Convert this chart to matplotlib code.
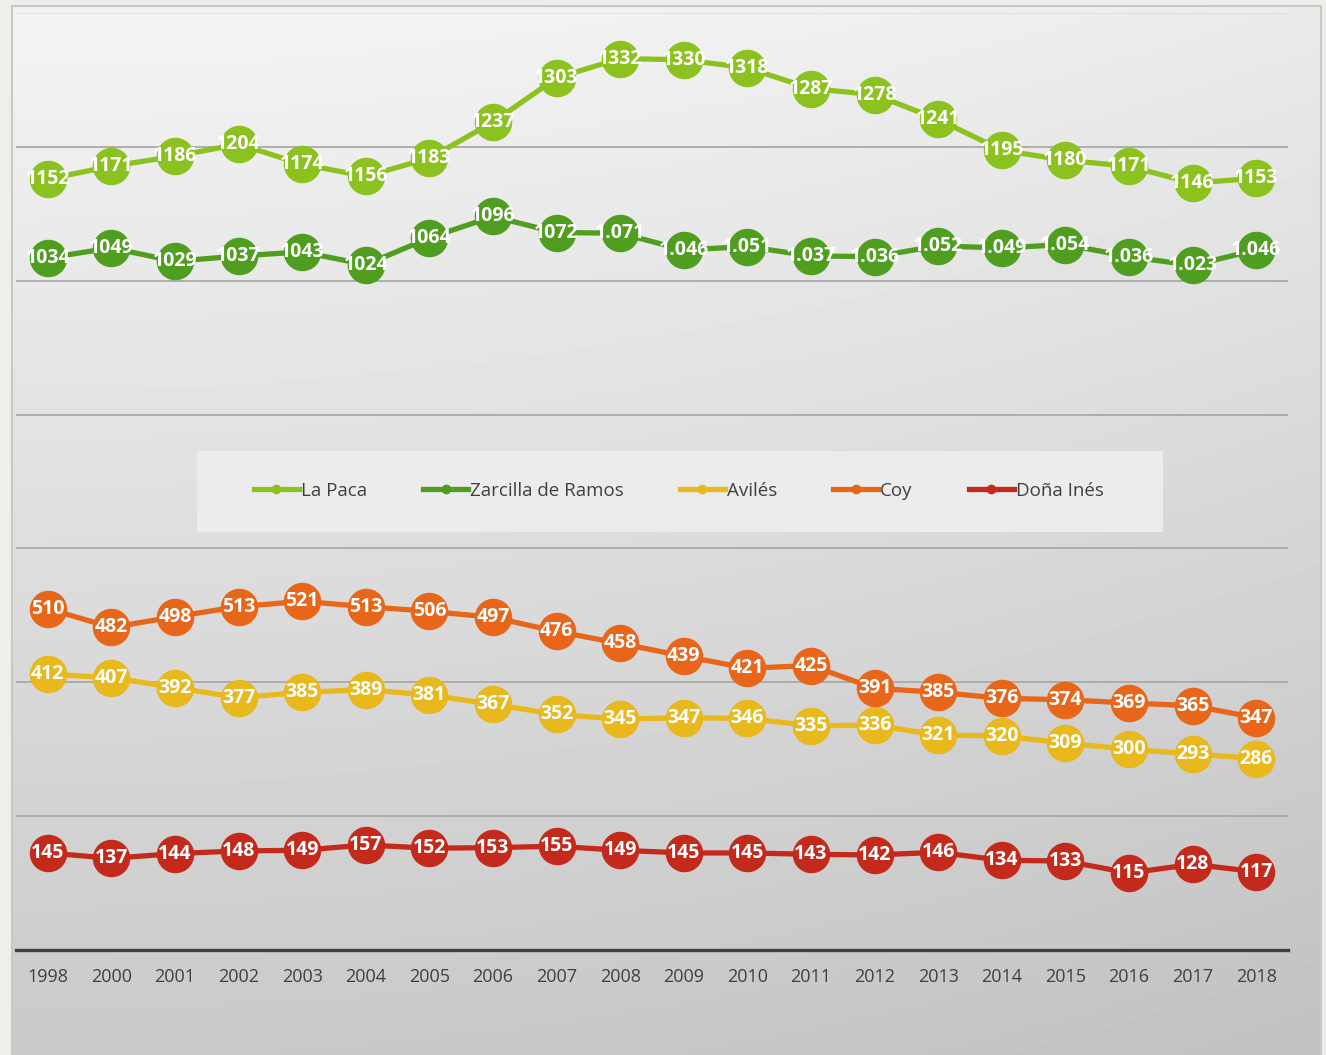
import numpy as np
import matplotlib.pyplot as plt
from matplotlib.patches import Rectangle

anios = ["1998", "2000", "2001", "2002", "2003", "2004", "2005", "2006", "2007", "2008",
         "2009", "2010", "2011", "2012", "2013", "2014", "2015", "2016", "2017", "2018"]

la_paca = [1152, 1171, 1186, 1204, 1174, 1156, 1183, 1237, 1303, 1332,
           1330, 1318, 1287, 1278, 1241, 1195, 1180, 1171, 1146, 1153]
zarcilla = [1034, 1049, 1029, 1037, 1043, 1024, 1064, 1096, 1072, 1071,
            1046, 1051, 1037, 1036, 1052, 1049, 1054, 1036, 1023, 1046]
aviles = [412, 407, 392, 377, 385, 389, 381, 367, 352, 345,
          347, 346, 335, 336, 321, 320, 309, 300, 293, 286]
coy = [510, 482, 498, 513, 521, 513, 506, 497, 476, 458,
       439, 421, 425, 391, 385, 376, 374, 369, 365, 347]
dona_ines = [145, 137, 144, 148, 149, 157, 152, 153, 155, 149,
             145, 145, 143, 142, 146, 134, 133, 115, 128, 117]

# desde 2009 las etiquetas de Zarcilla llevan separador de miles
sep_desde = 9

series = [
    ("La Paca", la_paca, "#8cc220"),
    ("Zarcilla de Ramos", zarcilla, "#4f9e20"),
    ("Avilés", aviles, "#e8b81c"),
    ("Coy", coy, "#e8661a"),
    ("Doña Inés", dona_ines, "#c42a1c"),
]

W, H = 1326, 1055
fig = plt.figure(figsize=(W / 100, H / 100), dpi=100, facecolor="#efeeea")

# panel con degradado
bg = fig.add_axes([12 / W, 0, (1321 - 12) / W, (H - 6) / H])
yy, xx = np.mgrid[0:1:300j, 0:1:300j]
grad = 0.955 - 0.165 * yy - 0.035 * xx ** 2
bg.imshow(grad, cmap="gray", vmin=0, vmax=1, aspect="auto", extent=[0, 1, 1, 0])
bg.set_xticks([])
bg.set_yticks([])
for s in bg.spines.values():
    s.set_color("#c8c8c8")
    s.set_linewidth(1.5)
bg.spines["bottom"].set_visible(False)

ax = fig.add_axes([16 / W, 105 / H, 1272 / W, 937 / H])
ax.patch.set_alpha(0)
x = np.arange(len(anios))

for yv in range(200, 1401, 200):
    ax.axhline(yv, color="#a9a9a9" if yv < 1400 else "#dedede", lw=1.3, zorder=1)

for i, (nombre, vals, color) in enumerate(series):
    ax.plot(x, vals, "-o", color=color, lw=3.8, markersize=26, zorder=3 + 2 * i)
    for j, v in enumerate(vals):
        txt = str(v)
        if nombre == "Zarcilla de Ramos" and j >= sep_desde:
            txt = f"{v:,}".replace(",", ".")
        ax.text(x[j], v, txt, ha="center", va="center", color="white",
                fontsize=14, fontweight="bold", family="Open Sans", zorder=4 + 2 * i)

ax.set_xlim(-0.5, len(anios) - 0.5)
ax.set_ylim(0, 1400)
ax.set_yticks([])
ax.set_xticks(x)
ax.set_xticklabels(anios, fontsize=13, color="#404040", family="Open Sans")
ax.tick_params(axis="x", length=0, pad=13)
for s in ["top", "left", "right"]:
    ax.spines[s].set_visible(False)
ax.spines["bottom"].set_color("#404040")
ax.spines["bottom"].set_linewidth(2.4)

# caja de la leyenda
ax.add_patch(Rectangle((0.1423, 0.446), 0.7594, 0.0866, transform=ax.transAxes,
                       facecolor="#ececec", edgecolor="none", zorder=2))
handles = [plt.Line2D([], [], color=c, lw=3.8, marker="o", markersize=6) for _, _, c in series]
leg = ax.legend(handles, [n for n, _, _ in series], loc="center", bbox_to_anchor=(0.521, 0.49),
                ncol=5, frameon=False, handlelength=2.4, handletextpad=0.1,
                columnspacing=3.0, prop={"family": "Open Sans", "size": 13.5})
for t in leg.get_texts():
    t.set_color("#404040")
leg.set_zorder(20)

fig.savefig("out.png", dpi=100, facecolor=fig.get_facecolor())
